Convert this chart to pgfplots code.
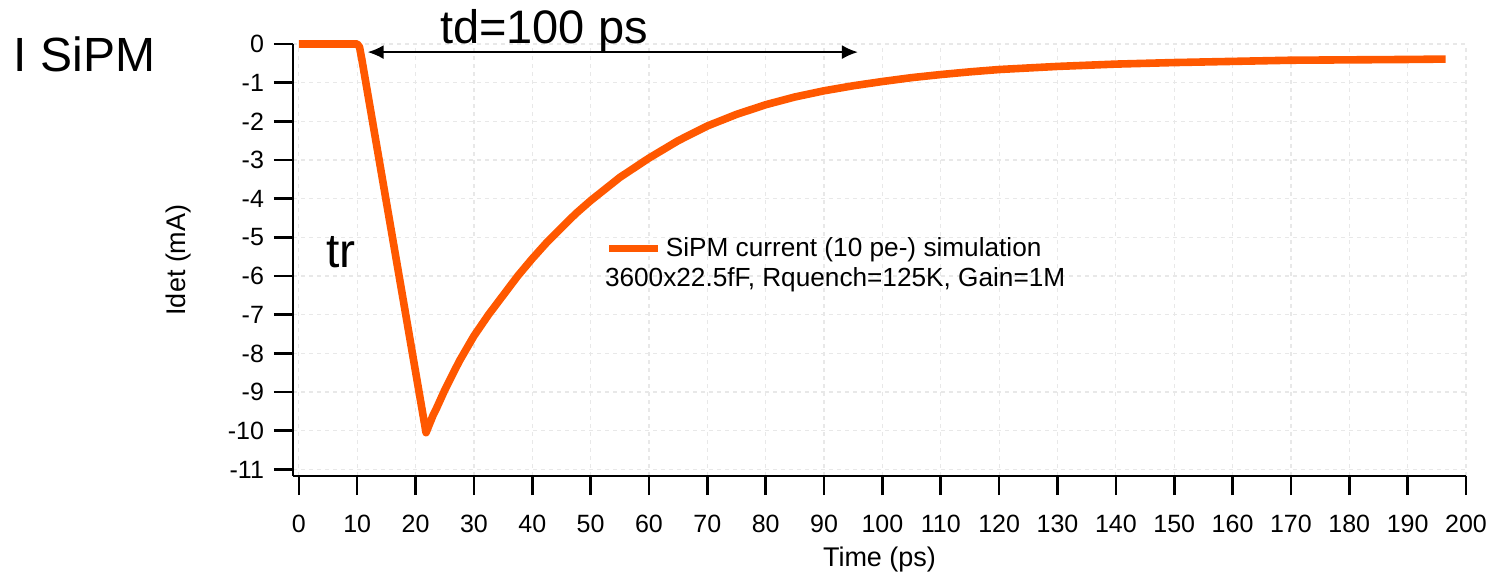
\documentclass[border=0pt]{standalone}
\usepackage{fontspec}
\setmainfont{Liberation Sans}
\usepackage{pgfplots}
\pgfplotsset{compat=1.18}
\usetikzlibrary{arrows.meta}
\definecolor{sipm}{RGB}{255,88,0}
\begin{document}
\begin{tikzpicture}
\begin{axis}[
  scale only axis,
  width=586.5pt, height=216pt,
  xmin=-1, xmax=200, ymin=-11.17, ymax=0,
  axis x line=bottom, axis y line=left,
  axis line style={-, line width=1.3pt, black},
  xtick={0,10,...,200}, ytick={-11,-10,...,0},
  xtick align=outside, ytick align=outside,
  major tick length=9.5pt,
  tick style={line width=1.3pt, black},
  grid=major,
  major grid style={gray!18, line width=0.6pt, dash pattern=on 2pt off 2pt},
  /pgf/number format/assume math mode=true,
  tick label style={font=\fontsize{12.5}{15}\selectfont},
  xticklabel style={yshift=-6.5pt},
  yticklabel style={xshift=-1.5pt},
  label style={font=\fontsize{13.5}{16}\selectfont},
  xlabel={Time (ps)}, ylabel={Idet (mA)},
  xlabel style={at={(axis description cs:0.5,0)}, anchor=base, yshift=-45pt},
  ylabel style={at={(axis description cs:0,0.5)}, anchor=base, yshift=53.5pt},
  clip=false,
  legend style={at={(axis cs:52.5,-5.28)}, anchor=west, draw=none, fill=none,
    inner sep=0pt, font=\fontsize{13.1}{16}\selectfont,
    legend cell align=left},
  legend image code/.code={\draw[sipm, line width=3.6pt] (0pt,0pt) -- (24.5pt,0pt);},
]
\coordinate (O) at (rel axis cs:0,0);
\addplot[sipm, line width=3.8pt, line join=round] table {
x y
0 0
10.0 0
10.4 -0.08
10.8 -0.4
21.8 -10.05
23 -9.6
23.5 -9.45
25 -8.95
27.5 -8.2
30 -7.55
32.5 -7.0
35 -6.5
37.5 -6.0
40 -5.55
42.5 -5.13
45 -4.75
47.5 -4.38
50 -4.05
55 -3.45
60 -2.95
65 -2.5
70 -2.12
75 -1.82
80 -1.57
85 -1.37
90 -1.21
95 -1.08
100 -0.97
105 -0.87
110 -0.79
115 -0.72
120 -0.66
130 -0.58
140 -0.52
150 -0.48
160 -0.45
170 -0.42
180 -0.41
190 -0.40
196.5 -0.39
};
\addlegendentry{SiPM current (10 pe-) simulation}
\node[anchor=west, inner sep=0pt, font=\fontsize{13.1}{16}\selectfont] at (axis cs:52.4,-6.10) {3600x22.5fF, Rquench=125K, Gain=1M};
\node[anchor=west, inner sep=0pt, font=\fontsize{24}{28}\selectfont] at (axis cs:-48.9,-0.27) {I SiPM};
\node[anchor=base, inner sep=0pt, font=\fontsize{23.5}{28}\selectfont] at (axis cs:42.0,0) {td=100 ps};
\node[anchor=base west, inner sep=0pt, font=\fontsize{24}{28}\selectfont] at (axis cs:4.6,-5.79) {tr};
\draw[{Latex[length=8pt,width=7pt]}-{Latex[length=8pt,width=7pt]}, line width=1pt] (axis cs:11.8,-0.21) -- (axis cs:95.8,-0.21);
\end{axis}
\pgfresetboundingbox
\path[use as bounding box] ([shift={(-146.5pt,-48pt)}]O) rectangle ([shift={(599pt,238pt)}]O);
\end{tikzpicture}
\end{document}
